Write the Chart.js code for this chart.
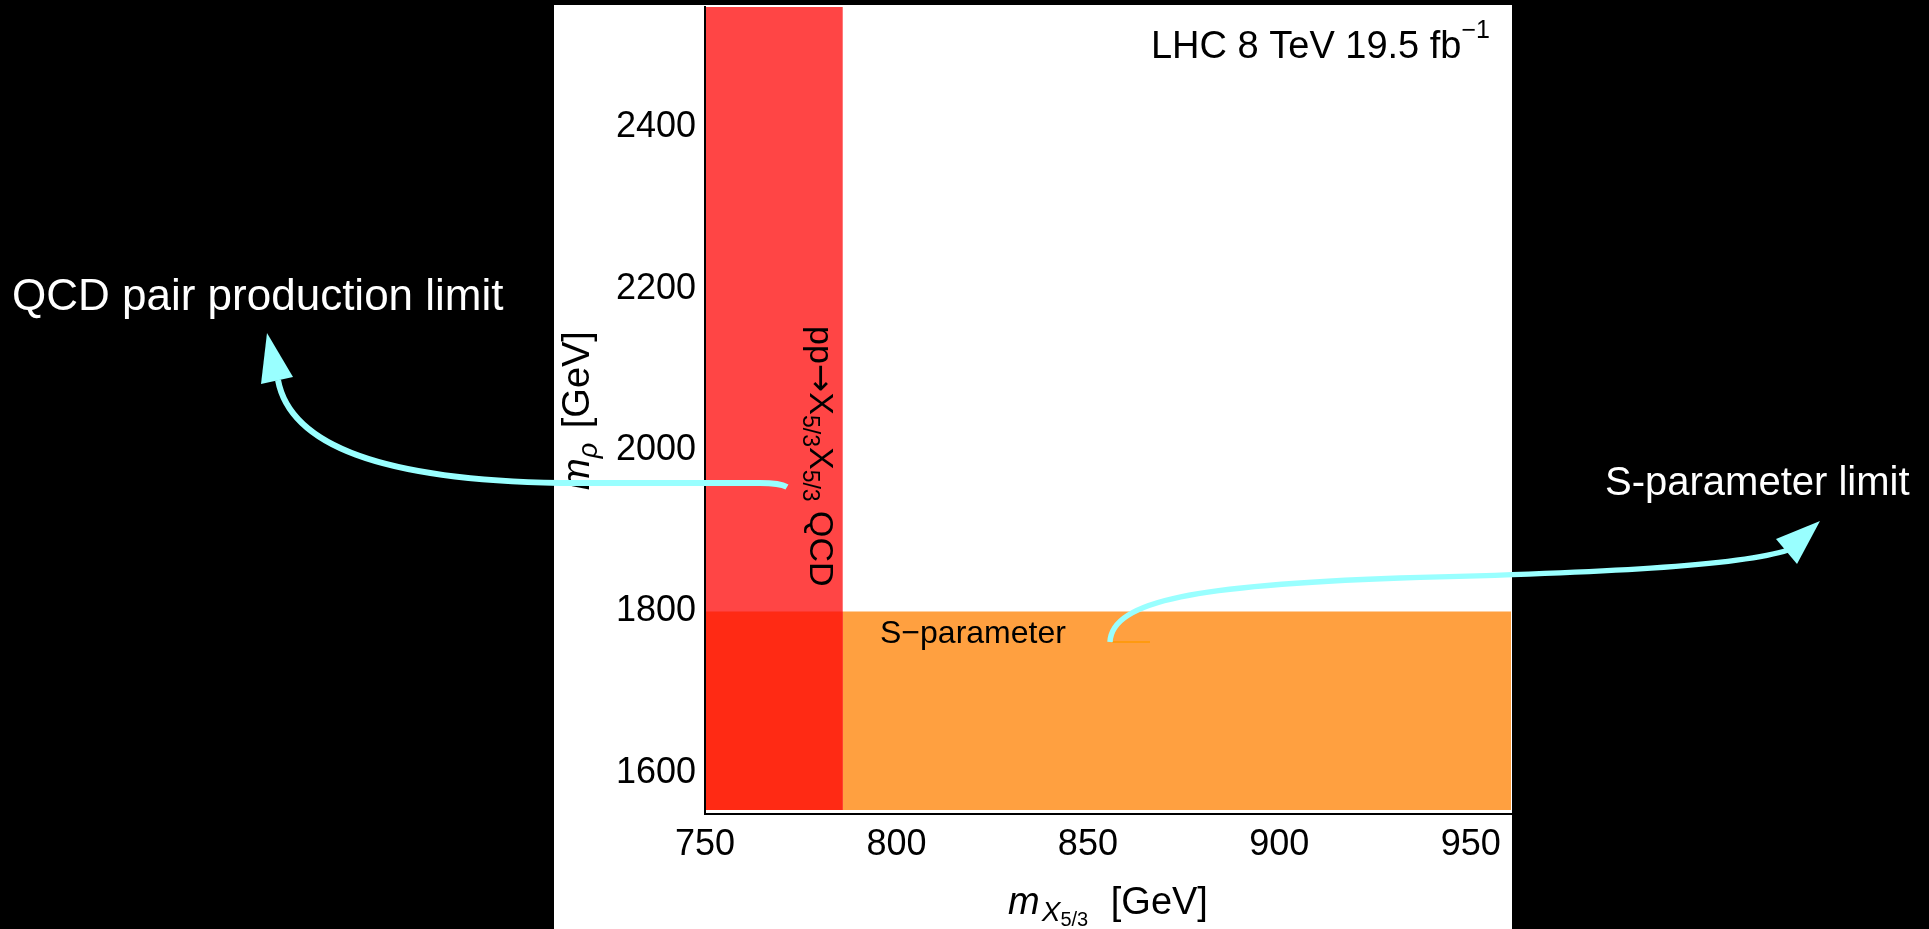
<!DOCTYPE html>
<html>
<head>
<meta charset="utf-8">
<script src="https://cdn.jsdelivr.net/npm/chart.js@4.4.0/dist/chart.umd.min.js"></script>
<style>
  html, body { margin: 0; padding: 0; background: #000; }
  canvas { display: block; }
</style>
</head>
<body>
<canvas id="chart" width="1929" height="929"></canvas>
<script>
// axis ranges and ticks
const xRange = [750, 960.5];
const yRange = [1549, 2549];
const xTicks = [750, 800, 850, 900, 950];
const yTicks = [1600, 1800, 2000, 2200, 2400];

// exclusion limits
const qcdLimit = 786;      // m_X5/3 bound from QCD pair production
const sParamLimit = 1800;  // m_rho bound from S-parameter
const regionFloor = 1554;

const FONT = '"Liberation Sans", Arial, Helvetica, sans-serif';
const CYAN = '#99FFFF';

function richText(ctx, parts, x, y, measureOnly) {
    let cx = x;
    parts.forEach(p => {
        ctx.font = (p.italic ? 'italic ' : '') + p.size + 'px ' + (p.family || FONT);
        cx += (p.dx || 0);
        if (!measureOnly) ctx.fillText(p.text, cx, y + (p.dy || 0));
        cx += ctx.measureText(p.text).width;
    });
    return cx - x;
}

const decor = {
    id: 'decor',
    beforeDraw(chart) {
        const ctx = chart.ctx;
        ctx.save();
        ctx.fillStyle = '#000';
        ctx.fillRect(0, 0, chart.width, chart.height);
        ctx.fillStyle = '#fff';
        ctx.fillRect(554, 5, 958, chart.height - 5);
        ctx.restore();
    },
    afterDraw(chart) {
        const ctx = chart.ctx;
        const area = chart.chartArea;
        ctx.save();
        ctx.fillStyle = '#000';
        ctx.textBaseline = 'alphabetic';
        ctx.textAlign = 'left';

        // LHC label (right aligned)
        const lhc = [
            { text: 'LHC 8 TeV 19.5 fb', size: 38 },
            { text: '\u22121', size: 25, dy: -20 }
        ];
        const lw = richText(ctx, lhc, 0, 0, true);
        richText(ctx, lhc, 1490 - lw, 58);

        // rotated QCD label in red band
        ctx.save();
        ctx.translate(810, 326);
        ctx.rotate(Math.PI / 2);
        richText(ctx, [
            { text: 'pp', size: 34 },
            { text: '\u2192', size: 34, family: '"DejaVu Sans", sans-serif' },
            { text: 'X', size: 34 },
            { text: '5/3', size: 23, dy: 7 },
            { text: 'X', size: 34 },
            { text: '5/3', size: 23, dy: 7 },
            { text: ' QCD', size: 34 }
        ], 0, 0);
        ctx.restore();

        // S-parameter label
        ctx.font = '32px ' + FONT;
        ctx.fillText('S\u2212parameter', 880, 643);
        ctx.strokeStyle = '#FF9900';
        ctx.lineWidth = 1.5;
        ctx.beginPath();
        ctx.moveTo(1112, 642);
        ctx.lineTo(1150, 642);
        ctx.stroke();

        // x axis title
        const xt = [
            { text: 'm', size: 38, italic: true },
            { text: 'X', size: 28, italic: true, dy: 7, dx: 2 },
            { text: '5/3', size: 20, dy: 12 },
            { text: ' [GeV]', size: 38, dx: 12 }
        ];
        const xw = richText(ctx, xt, 0, 0, true);
        richText(ctx, xt, (area.left + area.right) / 2 - xw / 2, 914);

        // y axis title
        const yt = [
            { text: 'm', size: 38, italic: true },
            { text: '\u03C1', size: 27, italic: true, dy: 8 },
            { text: ' [GeV]', size: 38, dx: 4 }
        ];
        const yw = richText(ctx, yt, 0, 0, true);
        ctx.save();
        ctx.translate(589, (area.top + area.bottom) / 2);
        ctx.rotate(-Math.PI / 2);
        richText(ctx, yt, -yw / 2, 0);
        ctx.restore();

        // annotations outside the frame
        ctx.fillStyle = '#fff';
        ctx.font = '44px ' + FONT;
        ctx.fillText('QCD pair production limit', 12, 310);
        ctx.font = '40px ' + FONT;
        ctx.fillText('S-parameter limit', 1605, 495);

        // arrows
        ctx.strokeStyle = CYAN;
        ctx.fillStyle = CYAN;
        ctx.lineWidth = 6;
        ctx.beginPath();
        ctx.moveTo(787, 487);
        ctx.quadraticCurveTo(780, 483, 760, 483);
        ctx.lineTo(560, 483);
        ctx.bezierCurveTo(380, 480, 290, 445, 278, 380);
        ctx.stroke();
        ctx.beginPath();
        ctx.moveTo(267, 333);
        ctx.lineTo(261, 384);
        ctx.lineTo(293, 377);
        ctx.closePath();
        ctx.fill();

        ctx.lineWidth = 5.5;
        ctx.beginPath();
        ctx.moveTo(1110, 642);
        ctx.bezierCurveTo(1112, 600, 1200, 585, 1400, 578);
        ctx.bezierCurveTo(1600, 573, 1740, 566, 1788, 550);
        ctx.stroke();
        ctx.beginPath();
        ctx.moveTo(1820, 521);
        ctx.lineTo(1776, 539);
        ctx.lineTo(1797, 564);
        ctx.closePath();
        ctx.fill();

        ctx.restore();
    }
};

const ctx = document.getElementById('chart').getContext('2d');
new Chart(ctx, {
    type: 'line',
    data: {
        datasets: [
            {
                label: 'QCD + S overlap',
                data: [{ x: xRange[0], y: sParamLimit }, { x: qcdLimit, y: sParamLimit }],
                backgroundColor: '#FF2A14',
                fill: { value: regionFloor },
                order: 0
            },
            {
                label: 'S-parameter',
                data: [{ x: qcdLimit, y: sParamLimit }, { x: xRange[1], y: sParamLimit }],
                backgroundColor: '#FFA040',
                fill: { value: regionFloor },
                order: 1
            },
            {
                label: 'QCD',
                data: [{ x: xRange[0], y: yRange[1] }, { x: qcdLimit, y: yRange[1] }],
                backgroundColor: '#FF4545',
                fill: { value: regionFloor },
                order: 2
            }
        ]
    },
    options: {
        responsive: false,
        animation: false,
        devicePixelRatio: 1,
        layout: { padding: { left: 554, right: 418, top: 7, bottom: 0 } },
        elements: {
            line: { borderWidth: 0, tension: 0 },
            point: { radius: 0, hoverRadius: 0 }
        },
        plugins: {
            legend: { display: false },
            tooltip: { enabled: false }
        },
        scales: {
            x: {
                type: 'linear',
                min: xRange[0],
                max: xRange[1],
                afterBuildTicks: s => { s.ticks = xTicks.map(v => ({ value: v })); },
                afterFit: s => {
                    s.height = 115;
                    s.paddingLeft = 0; s.paddingRight = 0;
                },
                grid: { display: false, drawTicks: false },
                border: { display: true, color: '#000', width: 2, z: 1 },
                ticks: {
                    color: '#000', padding: 9, maxRotation: 0,
                    font: { family: FONT, size: 36 },
                    callback: v => String(v)
                }
            },
            y: {
                type: 'linear',
                min: yRange[0],
                max: yRange[1],
                afterBuildTicks: s => { s.ticks = yTicks.map(v => ({ value: v })); },
                afterFit: s => {
                    s.width = 151;
                    s.paddingTop = 0; s.paddingBottom = 0;
                },
                grid: { display: false, drawTicks: false },
                border: { display: true, color: '#000', width: 2, z: 1 },
                ticks: {
                    color: '#000', padding: 9,
                    font: { family: FONT, size: 36 },
                    callback: v => String(v)
                }
            }
        }
    },
    plugins: [decor]
});
</script>
</body>
</html>
